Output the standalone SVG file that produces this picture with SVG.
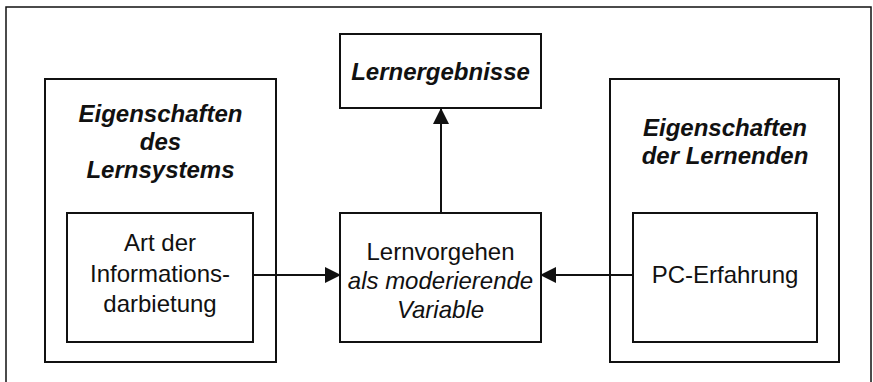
<svg xmlns="http://www.w3.org/2000/svg" width="873" height="382" viewBox="0 0 873 382">
<style>
.box{fill:#fff;stroke:#111;stroke-width:2}
.frame{fill:none;stroke:#111;stroke-width:1.5}
.t{font-family:"Liberation Sans",Arial,sans-serif;font-size:24px;fill:#111;text-anchor:middle}
.h{font-weight:bold;font-style:italic}
.i{font-style:italic}
.c{stroke:#111;stroke-width:2;fill:none}
</style>
<defs>
<marker id="ah" markerUnits="userSpaceOnUse" markerWidth="16" markerHeight="16" viewBox="0 0 16 16" refX="15" refY="8" orient="auto">
<path d="M0,0 L16,8 L0,16 Z" fill="#111"/>
</marker>
</defs>
<rect width="873" height="382" fill="#fff"/>
<path class="frame" d="M6,382 V7 H871 V382"/>
<g id="lernergebnisse">
<rect class="box" x="340" y="34" width="201" height="74"/>
<text class="t h" x="440.5" y="80" font-size="25">Lernergebnisse</text>
</g>
<g id="eigenschaften-lernsystem">
<rect class="box" x="45" y="79" width="231" height="283"/>
<text class="t h" x="160.5" y="122">Eigenschaften</text>
<text class="t h" x="160.5" y="150">des</text>
<text class="t h" x="160.5" y="178">Lernsystems</text>
</g>
<g id="art-der-informationsdarbietung">
<rect class="box" x="67" y="213" width="186" height="129"/>
<text class="t" x="160" y="251">Art der</text>
<text class="t" x="160" y="282">Informations-</text>
<text class="t" x="160" y="312">darbietung</text>
</g>
<g id="lernvorgehen">
<rect class="box" x="340" y="213" width="201" height="129"/>
<text class="t" x="440.5" y="260">Lernvorgehen</text>
<text class="t i" x="440.5" y="289">als moderierende</text>
<text class="t i" x="440.5" y="318">Variable</text>
</g>
<g id="eigenschaften-lernende">
<rect class="box" x="610" y="79" width="229" height="283"/>
<text class="t h" x="725" y="136">Eigenschaften</text>
<text class="t h" x="725" y="164">der Lernenden</text>
</g>
<g id="pc-erfahrung">
<rect class="box" x="633" y="213" width="184" height="129"/>
<text class="t" x="725" y="283">PC-Erfahrung</text>
</g>
<g id="connectors">
<line class="c" x1="253" y1="275" x2="340" y2="275" marker-end="url(#ah)"/>
<line class="c" x1="633" y1="275" x2="541" y2="275" marker-end="url(#ah)"/>
<line class="c" x1="441" y1="213" x2="441" y2="109" marker-end="url(#ah)"/>
</g>
</svg>
